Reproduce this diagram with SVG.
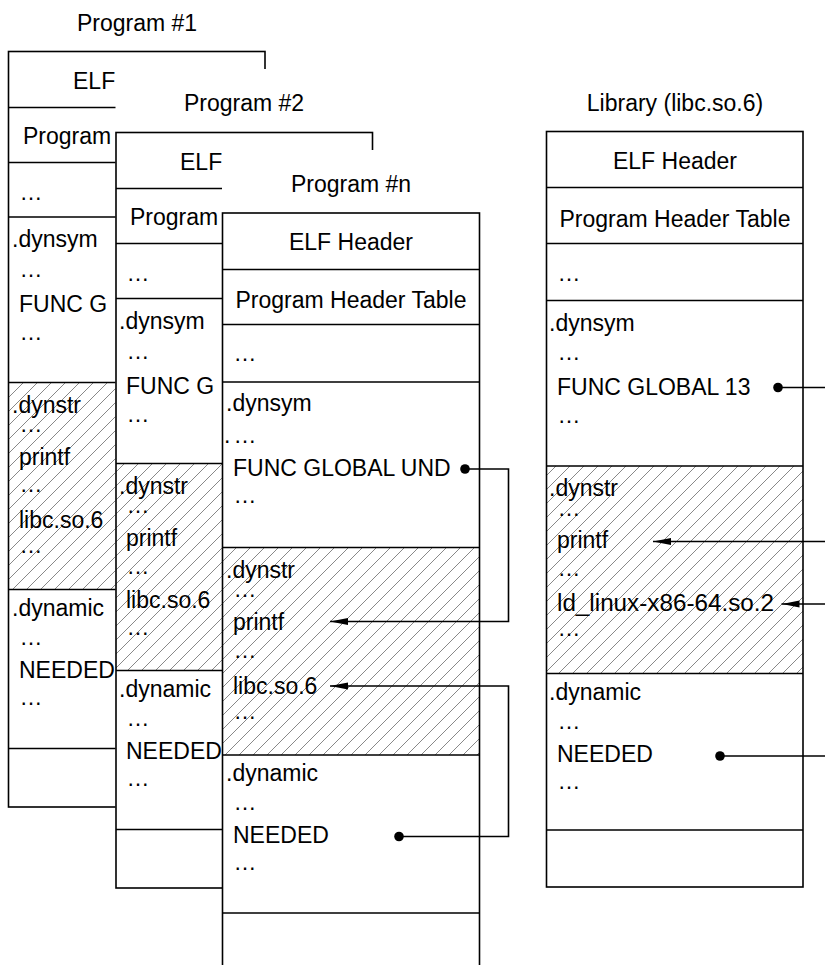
<svg xmlns="http://www.w3.org/2000/svg" width="825" height="965" viewBox="0 0 825 965">
  <style>
    text { font-family: "Liberation Sans", Arial, sans-serif; font-size: 23px; fill: #000; }
    .c { text-anchor: middle; }
    .box { fill: none; stroke: #000; stroke-width: 1.6; }
    .row { stroke: #000; stroke-width: 1.6; }
    .panel { fill: #fff; stroke: none; }
    .hatch { fill: url(#hatch); stroke: none; }
    .wire { fill: none; stroke: #000; stroke-width: 1.6; }
  </style>
  <defs>
    <pattern id="hatch" patternUnits="userSpaceOnUse" width="14" height="14">
      <path d="M0,14 L14,0 M-7,7 L7,-7 M7,21 L21,7" stroke="#7a7a7a" stroke-width="0.9"/>
    </pattern>
    <marker id="arrow" markerUnits="userSpaceOnUse" markerWidth="18" markerHeight="8" refX="18" refY="3.5" orient="auto">
      <path d="M0,0 L18,3.5 L0,7 Z" fill="#000"/>
    </marker>
    <marker id="dot" markerUnits="userSpaceOnUse" markerWidth="12" markerHeight="12" refX="6" refY="6" orient="auto">
      <circle cx="6" cy="6" r="4.8" fill="#000"/>
    </marker>
  </defs>

  <rect width="825" height="965" fill="#fff"/>

  <!-- Program #1 -->
  <g id="program1">
    <text class="c" x="137" y="31">Program #1</text>
    <rect class="hatch" x="8.5" y="382.5" width="256.5" height="207"/>
    <rect class="box" x="8.5" y="51.5" width="256.5" height="755.5"/>
    <path class="row" d="M8.5,107.5H265 M8.5,162.5H265 M8.5,217H265 M8.5,382.5H265 M8.5,589.5H265 M8.5,748.5H265"/>
    <text x="73" y="88.5">ELF</text>
    <text x="23" y="144">Program</text>
    <text x="19.5" y="200">…</text>
    <text x="12" y="247">.dynsym</text>
    <text x="19.5" y="277">…</text>
    <text x="19" y="312">FUNC G</text>
    <text x="19.5" y="340">…</text>
    <text x="12" y="412.5">.dynstr</text>
    <text x="19.5" y="432">…</text>
    <text x="19" y="465">printf</text>
    <text x="19.5" y="492">…</text>
    <text x="19" y="528">libc.so.6</text>
    <text x="19.5" y="553">…</text>
    <text x="12" y="615.5">.dynamic</text>
    <text x="19.5" y="644.5">…</text>
    <text x="19" y="677.5">NEEDED</text>
    <text x="19.5" y="704.5">…</text>
  </g>

  <!-- Program #2 -->
  <g id="program2">
    <rect class="panel" x="115.5" y="69" width="258.5" height="830"/>
    <text class="c" x="244" y="111">Program #2</text>
    <rect class="hatch" x="116" y="463.5" width="256.5" height="207"/>
    <rect class="box" x="116" y="132.5" width="256.5" height="755.5"/>
    <path class="row" d="M116,188.5H372.5 M116,243.5H372.5 M116,298.5H372.5 M116,463.5H372.5 M116,670.5H372.5 M116,829.5H372.5"/>
    <text x="180" y="169.5">ELF</text>
    <text x="130" y="225">Program</text>
    <text x="126.5" y="281">…</text>
    <text x="119" y="328.5">.dynsym</text>
    <text x="126.5" y="358.5">…</text>
    <text x="126" y="393.5">FUNC G</text>
    <text x="126.5" y="421.5">…</text>
    <text x="119" y="493.5">.dynstr</text>
    <text x="126.5" y="513">…</text>
    <text x="126" y="545.5">printf</text>
    <text x="126.5" y="573.5">…</text>
    <text x="126" y="608">libc.so.6</text>
    <text x="126.5" y="634.5">…</text>
    <text x="119" y="696.5">.dynamic</text>
    <text x="126.5" y="725.5">…</text>
    <text x="126" y="759">NEEDED</text>
    <text x="126.5" y="786">…</text>
  </g>

  <!-- Program #n -->
  <g id="programN">
    <rect class="panel" x="222" y="150" width="259" height="820"/>
    <text class="c" x="351" y="192">Program #n</text>
    <rect class="hatch" x="222.5" y="547.5" width="257" height="207.5"/>
    <rect class="box" x="222.5" y="213" width="257" height="770"/>
    <path class="row" d="M222.5,269.5H479.5 M222.5,324.5H479.5 M222.5,382H479.5 M222.5,547.5H479.5 M222.5,755H479.5 M222.5,913H479.5"/>
    <text class="c" x="351" y="250">ELF Header</text>
    <text class="c" x="351" y="307.5">Program Header Table</text>
    <text x="233.5" y="361">…</text>
    <text x="226" y="411">.dynsym</text>
    <text x="224" y="443">.<tspan x="233.5">…</tspan></text>
    <text x="233" y="476">FUNC GLOBAL UND</text>
    <text x="233.5" y="503">…</text>
    <text x="226" y="577.5">.dynstr</text>
    <text x="233.5" y="597">…</text>
    <text x="233" y="629.5">printf</text>
    <text x="233.5" y="657.5">…</text>
    <text x="233" y="693.5">libc.so.6</text>
    <text x="233.5" y="718.5">…</text>
    <text x="226" y="781">.dynamic</text>
    <text x="233.5" y="810">…</text>
    <text x="233" y="843">NEEDED</text>
    <text x="233.5" y="870">…</text>
  </g>

  <!-- Library (libc.so.6) -->
  <g id="library">
    <text class="c" x="675" y="110.5">Library (libc.so.6)</text>
    <rect class="hatch" x="546.5" y="466" width="256.5" height="207.5"/>
    <rect class="box" x="546.5" y="131.5" width="256.5" height="755.5"/>
    <path class="row" d="M546.5,187.5H803 M546.5,243.5H803 M546.5,300.5H803 M546.5,466H803 M546.5,673.5H803 M546.5,830H803"/>
    <text class="c" x="675" y="168.5">ELF Header</text>
    <text class="c" x="675" y="227">Program Header Table</text>
    <text x="557.5" y="280.5">…</text>
    <text x="549" y="331">.dynsym</text>
    <text x="557.5" y="360">…</text>
    <text x="557" y="395">FUNC GLOBAL 13</text>
    <text x="557.5" y="423">…</text>
    <text x="549" y="496">.dynstr</text>
    <text x="557.5" y="516">…</text>
    <text x="557" y="548">printf</text>
    <text x="557.5" y="576">…</text>
    <text x="557" y="611" textLength="217" lengthAdjust="spacingAndGlyphs">ld_linux-x86-64.so.2</text>
    <text x="557.5" y="636">…</text>
    <text x="549" y="700">.dynamic</text>
    <text x="557.5" y="729">…</text>
    <text x="557" y="762">NEEDED</text>
    <text x="557.5" y="789">…</text>
  </g>

  <!-- symbol / string references -->
  <g id="connectors">
    <path class="wire" d="M465,469 H508.5 V621.5 H330" marker-start="url(#dot)" marker-end="url(#arrow)"/>
    <path class="wire" d="M399,836.5 H508.5 V686 H330" marker-start="url(#dot)" marker-end="url(#arrow)"/>
    <path class="wire" d="M778,387.5 H826" marker-start="url(#dot)"/>
    <path class="wire" d="M826,541.5 H653" marker-end="url(#arrow)"/>
    <path class="wire" d="M826,604 H781.5" marker-end="url(#arrow)"/>
    <path class="wire" d="M720,756 H826" marker-start="url(#dot)"/>
  </g>
</svg>
